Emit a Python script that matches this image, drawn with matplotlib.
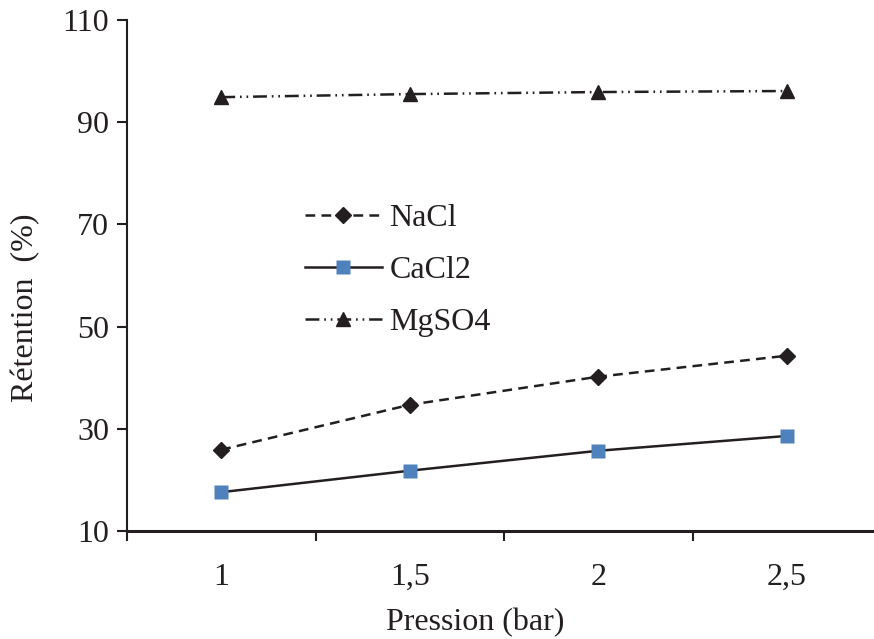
import matplotlib
matplotlib.use("Agg")
import matplotlib.pyplot as plt
import numpy as np

plt.rcParams['font.family'] = ['Liberation Serif', 'DejaVu Serif']
plt.rcParams['lines.scale_dashes'] = False

pressures = ["1", "1,5", "2", "2,5"]
nacl = [25.9, 34.7, 40.2, 44.3]
cacl2 = [17.6, 21.8, 25.7, 28.6]
mgso4 = [94.9, 95.5, 95.9, 96.1]
yticks = [10, 30, 50, 70, 90, 110]

W, H = 874, 639
fig = plt.figure(figsize=(W / 100, H / 100), dpi=100)
x0, x1 = 127, 881
y0, y1 = 531, 20
ax = fig.add_axes([x0 / W, (H - y0) / H, (x1 - x0) / W, (y0 - y1) / H])

k = '#231F20'
x = np.arange(len(pressures))
ax.plot(x, nacl, color=k, lw=1.8, dashes=(7, 4.5), marker='D', ms=8,
        mfc=k, mec=k, label='NaCl')
ax.plot(x, cacl2, color=k, lw=1.8, marker='s', ms=10, mfc='#4F81BD',
        mec='none', label='CaCl2')
ax.plot(x, mgso4, color=k, lw=1.8, dashes=(10, 3.5, 1.2, 3.5, 1.2, 3.5),
        marker='^', ms=9.5, mfc=k, mec=k, label='MgSO4')

ax.set_xlim(-0.5, len(pressures) - 0.5)
ax.set_ylim(10, 110)
ax.set_yticks(yticks)
ax.set_yticklabels([str(v) for v in yticks], fontsize=23, color=k)
ax.set_xticks(np.arange(-0.5, len(pressures), 1.0))
ax.set_xticklabels([])
ax.set_xticks(x, minor=True)
ax.set_xticklabels(pressures, minor=True, fontsize=23, color=k)
ax.tick_params(axis='x', which='minor', length=0, pad=23)
ax.tick_params(axis='x', which='major', length=7, width=1.5, color=k, direction='out')
ax.tick_params(axis='y', length=7, width=1.5, color=k, direction='out', pad=6)

for s in ['top', 'right']:
    ax.spines[s].set_visible(False)
ax.spines['left'].set_color(k)
ax.spines['left'].set_linewidth(1.5)
ax.spines['bottom'].set_color(k)
ax.spines['bottom'].set_linewidth(2.2)

ax.set_xlabel('Pression (bar)', fontsize=23, color=k)
ax.xaxis.set_label_coords((475 - x0) / (x1 - x0), -0.15)
ax.set_ylabel('Rétention  (%)', fontsize=23, color=k)
ax.yaxis.set_label_coords(-0.115, (y0 - 308) / (y0 - y1))

leg = ax.legend(loc='upper left', bbox_to_anchor=(0.219, 0.665), frameon=False,
                fontsize=23, handlelength=2.4, handletextpad=0.25, labelspacing=0.7,
                borderaxespad=0)
for t in leg.get_texts():
    t.set_color(k)

fig.savefig('out.png', dpi=100)
